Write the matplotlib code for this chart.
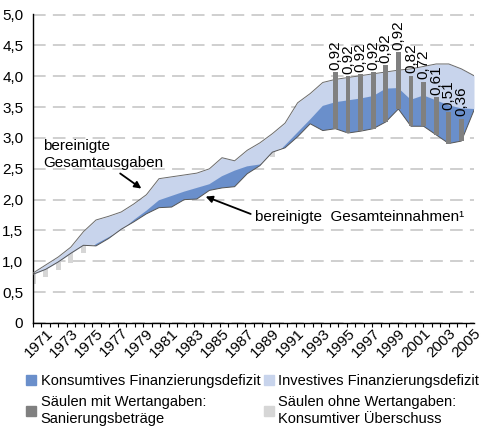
import numpy as np
import matplotlib.pyplot as plt
from matplotlib.patches import Patch

plt.rcParams['font.family'] = ['Liberation Sans', 'DejaVu Sans']

# data
years = np.arange(1970, 2006)
ausgaben = [0.81, 0.94, 1.07, 1.23, 1.48, 1.67, 1.73, 1.80, 1.93, 2.08,
            2.34, 2.37, 2.40, 2.43, 2.50, 2.68, 2.63, 2.80, 2.92, 3.07,
            3.24, 3.57, 3.72, 3.90, 3.95, 3.98, 4.01, 4.04, 4.07, 4.10,
            4.12, 4.16, 4.20, 4.20, 4.12, 4.01]
einnahmen = [0.79, 0.87, 0.99, 1.13, 1.26, 1.25, 1.37, 1.52, 1.64, 1.77,
             1.87, 1.88, 2.00, 2.01, 2.15, 2.19, 2.21, 2.42, 2.55, 2.77,
             2.84, 3.02, 3.23, 3.12, 3.15, 3.08, 3.11, 3.15, 3.26, 3.47,
             3.19, 3.19, 3.05, 2.91, 2.95, 3.45]
konsumtiv = [0.63, 0.75, 0.86, 0.97, 1.14, 1.28, 1.39, 1.50, 1.67, 1.82,
             1.99, 2.06, 2.13, 2.19, 2.25, 2.38, 2.47, 2.54, 2.57, 2.69,
             2.88, 3.09, 3.30, 3.52, 3.58, 3.61, 3.64, 3.68, 3.80, 3.81,
             3.62, 3.69, 3.61, 3.53, 3.48, 3.47]
san_years = np.arange(1994, 2005)
sanierung = [0.92, 0.92, 0.92, 0.92, 0.92, 0.92, 0.82, 0.72, 0.61, 0.51, 0.36]
san_labels = ['0,92', '0,92', '0,92', '0,92', '0,92', '0,92',
              '0,82', '0,72', '0,61', '0,51', '0,36']
ytick_vals = np.arange(0, 5.01, 0.5)
ytick_labels = ['0', '0,5', '1,0', '1,5', '2,0', '2,5', '3,0', '3,5', '4,0', '4,5', '5,0']
xtick_years = np.arange(1971, 2006, 2)

A = np.array(ausgaben)
E = np.array(einnahmen)
K = np.array(konsumtiv)

c_kons = '#6a8fcb'
c_inv = '#c8d4ec'
c_san = '#808080'
c_ueb = '#d6d6d6'
fs = 11

fig = plt.figure(figsize=(4.83, 4.38), dpi=100)
ax = fig.add_axes([33/483, 1-323/438, 441/483, 309/438])

ax.fill_between(years, np.maximum(E, K), A, color=c_inv, lw=0, zorder=2)
ax.fill_between(years, E, K, where=K > E, interpolate=True, color=c_kons, lw=0, zorder=2)
ax.plot(years, A, color='#6a6a6a', lw=0.7, zorder=3)
ax.plot(years, E, color='#555555', lw=0.7, zorder=3)

# konsumtiver Ueberschuss: bars hanging below the Einnahmen line
surplus = np.clip(E - K, 0, None)
mask = surplus > 0
ax.bar(years[mask], -surplus[mask], bottom=E[mask], width=0.4, color=c_ueb, zorder=1)

# Sanierungsbetraege sitting on the Einnahmen line
san_bottom = E[np.isin(years, san_years)]
ax.bar(san_years, sanierung, bottom=san_bottom, width=0.38, color=c_san, zorder=4)
for x, b, h, t in zip(san_years, san_bottom, sanierung, san_labels):
    ax.text(x, b + h + 0.04, t, rotation=90, ha='center', va='bottom', fontsize=fs)

ax.set_xlim(1970, 2005)
ax.set_ylim(0, 5.01)
ax.set_yticks(ytick_vals)
ax.set_yticklabels(ytick_labels, fontsize=fs)
ax.tick_params(axis='y', length=0, pad=7)
ax.set_xticks(xtick_years)
ax.set_xticklabels([str(y) for y in xtick_years], rotation=45, ha='right',
                   rotation_mode='anchor', fontsize=fs)
ax.set_xticks(np.linspace(1970, 2005, 53), minor=True)
ax.tick_params(axis='x', which='both', length=3, width=0.8, pad=2)
ax.tick_params(axis='x', which='major', length=0)
ax.grid(axis='y', color='#cccccc', lw=1.3, dashes=(7, 4))
ax.set_axisbelow(True)
for s in ['top', 'right']:
    ax.spines[s].set_visible(False)
ax.spines['left'].set_linewidth(1.0)
ax.spines['bottom'].set_linewidth(1.0)

ax.annotate('bereinigte\nGesamtausgaben', xy=(1978.6, 2.18), xytext=(1970.8, 2.99),
            fontsize=fs, ha='left', va='top', linespacing=1.3,
            arrowprops=dict(arrowstyle='-|>', color='black', lw=1.3,
                            shrinkA=1, shrinkB=0, mutation_scale=10,
                            relpos=(0.6, 0.0)))
ax.annotate('bereinigte  Gesamteinnahmen\u00b9', xy=(1983.7, 2.05), xytext=(1987.6, 1.72),
            fontsize=fs, ha='left', va='center',
            arrowprops=dict(arrowstyle='-|>', color='black', lw=1.3,
                            shrinkA=1, shrinkB=0, mutation_scale=10,
                            relpos=(0.0, 0.6)))

handles = [Patch(color=c_kons), Patch(color=c_san), Patch(color=c_inv), Patch(color=c_ueb)]
labels = ['Konsumtives Finanzierungsdefizit', 'S\u00e4ulen mit Wertangaben:\nSanierungsbetr\u00e4ge',
          'Investives Finanzierungsdefizit', 'S\u00e4ulen ohne Wertangaben:\nKonsumtiver \u00dcberschuss']
leg = fig.legend(handles, labels, ncol=2, loc='upper left', bbox_to_anchor=(26/483, 1-374/438),
                 frameon=False, fontsize=10.5, handlelength=0.7, handleheight=0.7,
                 handletextpad=0.3, columnspacing=0.25, labelspacing=0.45, borderpad=0,
                 borderaxespad=0)
for t in leg.get_texts():
    t.set_linespacing(1.3)

fig.savefig('out.png', dpi=100)
